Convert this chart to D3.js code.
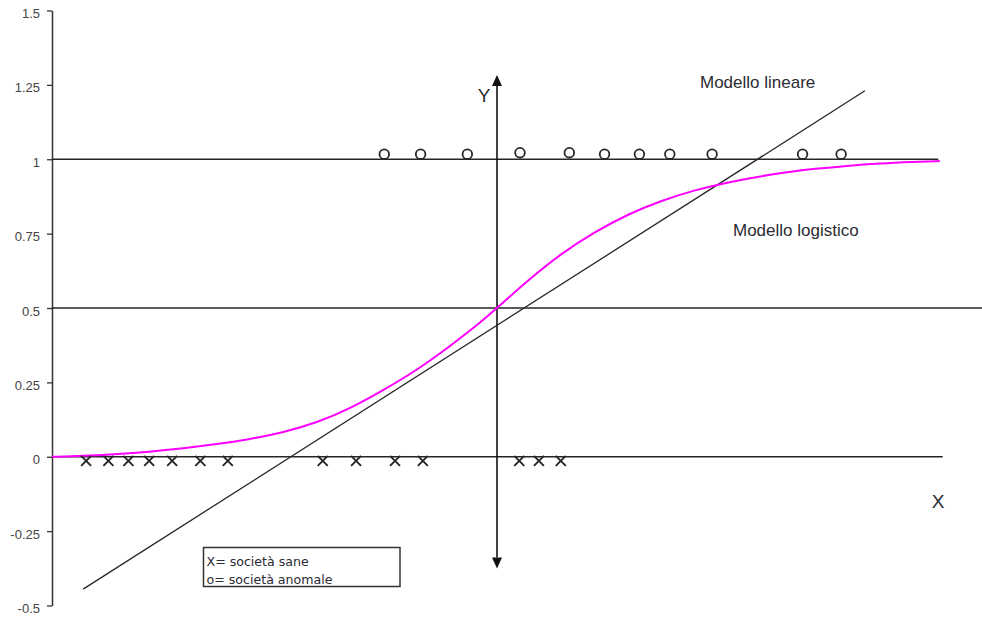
<!DOCTYPE html>
<html>
<head>
<meta charset="utf-8">
<script src="https://cdn.jsdelivr.net/npm/d3@7"></script>
<style>
  html, body { margin: 0; padding: 0; background: #fff; }
  svg { display: block; }
</style>
</head>
<body>
<svg id="chart" width="982" height="617"></svg>
<script>
// Y axis ticks
const yTickValues = [-0.5, -0.25, 0, 0.25, 0.5, 0.75, 1, 1.25, 1.5];
const yTickLabels = ["-0.5", "-0.25", "0", "0.25", "0.5", "0.75", "1", "1.25", "1.5"];

// Healthy companies (X markers), sitting on Y = 0
const saneX = [-5.54, -5.24, -4.97, -4.69, -4.38, -4.00, -3.63, -2.35, -1.90, -1.375, -1.00, 0.30, 0.565, 0.86];
const saneY = [-0.014, -0.014, -0.014, -0.014, -0.014, -0.014, -0.014, -0.014, -0.014, -0.014, -0.014, -0.014, -0.014, -0.014];

// Distressed companies (o markers), sitting on Y = 1
const anomaleX = [-1.52, -1.03, -0.40, 0.31, 0.975, 1.45, 1.92, 2.33, 2.90, 4.12, 4.64];
const anomaleY = [1.017, 1.017, 1.017, 1.022, 1.022, 1.017, 1.017, 1.017, 1.017, 1.017, 1.017];

// Logistic model curve
const logisticX = [-6.00, -5.61, -5.01, -4.68, -4.23, -3.78, -3.33, -2.88, -2.43, -1.98, -1.53, -1.08, -0.63, -0.18, 0.00,
                   0.42, 0.87, 1.32, 1.77, 2.22, 2.67, 3.12, 3.57, 4.02, 4.26, 4.72, 5.16, 5.61, 5.97];
const logisticY = [0.000, 0.002, 0.010, 0.017, 0.028, 0.042, 0.059, 0.082, 0.114, 0.162, 0.224, 0.291, 0.372, 0.460, 0.500,
                   0.594, 0.684, 0.756, 0.816, 0.861, 0.897, 0.923, 0.944, 0.960, 0.967, 0.978, 0.986, 0.991, 0.994];

// Linear model
const linearX = [-5.58, 4.96];
const linearY = [-0.445, 1.23];

// Horizontal reference levels and where each one ends on the right
const refLevels = [1, 0.5, 0];
const refEnds = [5.95, 6.54, 6.01];

// Extent of the central Y arrow axis (arrow tips)
const arrowExtent = [-0.376, 1.283];

const svg = d3.select("#chart");

const x = d3.scaleLinear().domain([-6, 6]).range([52, 942]);
const y = d3.scaleLinear().domain([-0.5, 1.5]).range([605.5, 10.5]);

const ink = "#262626";

// Left value axis
const yAxis = d3.axisLeft(y)
  .tickValues(yTickValues)
  .tickFormat((d, i) => yTickLabels[i])
  .tickSize(5)
  .tickSizeOuter(0)
  .tickPadding(7);

const gy = svg.append("g")
  .attr("transform", `translate(${x(-6)},0)`)
  .call(yAxis);
gy.select(".domain").attr("stroke", "#333").attr("stroke-width", 1.5);
gy.selectAll(".tick line").attr("stroke", "#333").attr("stroke-width", 1.3);
gy.selectAll(".tick text")
  .attr("dy", 7)
  .attr("fill", "#444")
  .style("font-family", "'Liberation Sans', Arial, sans-serif")
  .style("font-size", "13px");

// Horizontal reference lines
svg.append("g").selectAll("line")
  .data(refLevels)
  .join("line")
  .attr("x1", x(-6))
  .attr("x2", (d, i) => x(refEnds[i]))
  .attr("y1", d => y(d))
  .attr("y2", d => y(d))
  .attr("stroke", ink)
  .attr("stroke-width", 1.5);

// Central Y axis with arrowheads at both ends
const ax = x(0);
const yTop = y(arrowExtent[1]);
const yBot = y(arrowExtent[0]);
const headLen = 11, headHalf = 5;
svg.append("line")
  .attr("x1", ax).attr("x2", ax)
  .attr("y1", yTop + headLen).attr("y2", yBot - headLen)
  .attr("stroke", "#111")
  .attr("stroke-width", 1.6);
svg.append("path")
  .attr("d", `M${ax},${yTop}L${ax + headHalf},${yTop + headLen}L${ax - headHalf},${yTop + headLen}Z`)
  .attr("fill", "#111");
svg.append("path")
  .attr("d", `M${ax},${yBot}L${ax + headHalf},${yBot - headLen}L${ax - headHalf},${yBot - headLen}Z`)
  .attr("fill", "#111");

// Linear model
const linearPts = linearX.map((v, i) => [v, linearY[i]]);
svg.append("path")
  .datum(linearPts)
  .attr("d", d3.line().x(d => x(d[0])).y(d => y(d[1])))
  .attr("fill", "none")
  .attr("stroke", ink)
  .attr("stroke-width", 1.3);

// Logistic model
const logisticPts = logisticX.map((v, i) => [v, logisticY[i]]);
svg.append("path")
  .datum(logisticPts)
  .attr("d", d3.line().curve(d3.curveBasis).x(d => x(d[0])).y(d => y(d[1])))
  .attr("fill", "none")
  .attr("stroke", "#ff00ff")
  .attr("stroke-width", 2);

// o markers
svg.append("g").selectAll("circle")
  .data(anomaleX.map((v, i) => [v, anomaleY[i]]))
  .join("circle")
  .attr("cx", d => x(d[0]))
  .attr("cy", d => y(d[1]))
  .attr("r", 4.8)
  .attr("fill", "none")
  .attr("stroke", ink)
  .attr("stroke-width", 1.8);

// X markers
const half = 5;
svg.append("g").selectAll("path")
  .data(saneX.map((v, i) => [v, saneY[i]]))
  .join("path")
  .attr("d", d => {
    const cx = x(d[0]), cy = y(d[1]);
    return `M${cx - half},${cy - half}L${cx + half},${cy + half}M${cx + half},${cy - half}L${cx - half},${cy + half}`;
  })
  .attr("fill", "none")
  .attr("stroke", ink)
  .attr("stroke-width", 1.9);

// Text annotations
const labelFont = "'Liberation Sans', Arial, sans-serif";
const text = (tx, ty, str, size, anchor) => svg.append("text")
  .attr("x", tx).attr("y", ty)
  .attr("text-anchor", anchor || "start")
  .attr("fill", "#2b2b33")
  .style("font-family", labelFont)
  .style("font-size", size + "px")
  .text(str);

text(700, 88, "Modello lineare", 17);
text(733, 236, "Modello logistico", 17);
text(484, 102, "Y", 19, "middle");
text(938, 508, "X", 19, "middle");

// Legend box
const legend = svg.append("g");
legend.append("rect")
  .attr("x", 203.5).attr("y", 547.5)
  .attr("width", 196.5).attr("height", 39)
  .attr("fill", "#fff")
  .attr("stroke", "#333")
  .attr("stroke-width", 1.5);
legend.selectAll("text")
  .data(["X= società sane", "o= società anomale"])
  .join("text")
  .attr("x", 206.5)
  .attr("y", (d, i) => 566 + i * 18)
  .attr("fill", "#2b2b33")
  .style("font-family", "'DejaVu Sans', Verdana, sans-serif")
  .style("font-size", "12.6px")
  .text(d => d);
</script>
</body>
</html>
